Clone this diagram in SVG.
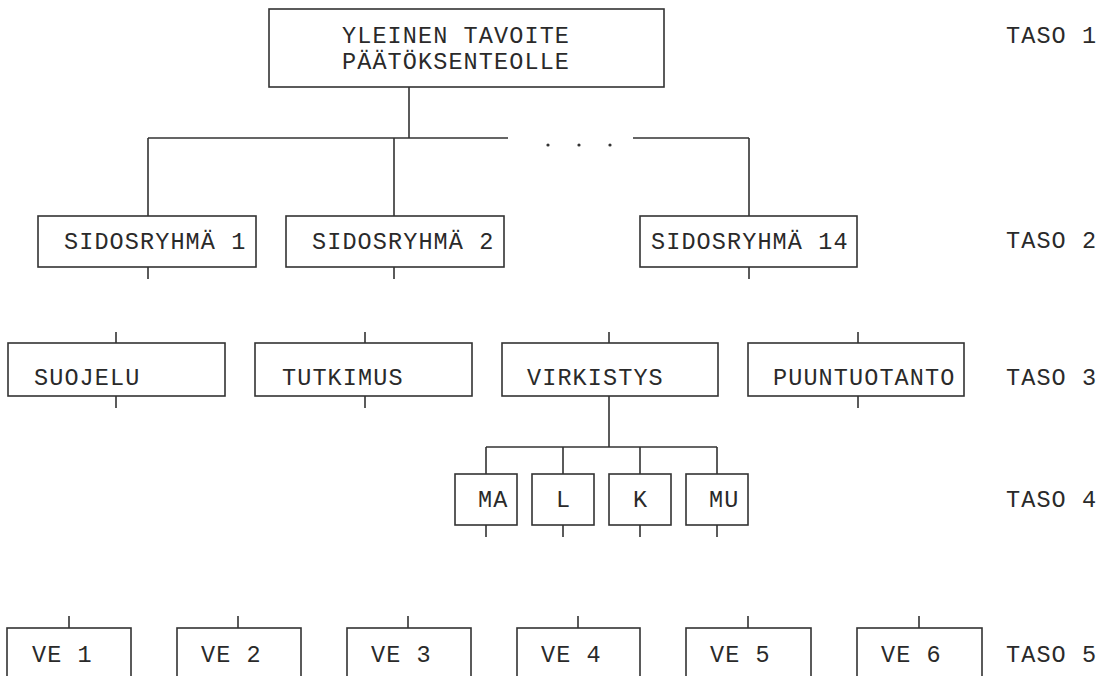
<svg xmlns="http://www.w3.org/2000/svg" width="1109" height="676" viewBox="0 0 1109 676">
<style>
.b{fill:none;stroke:#333;stroke-width:1.6}
.c{fill:none;stroke:#333;stroke-width:1.6}
text{font-family:"Liberation Mono","DejaVu Sans Mono",monospace;font-size:23.5px;letter-spacing:1.1px;fill:#2a2a2a}
</style>
<rect width="1109" height="676" fill="#fff"/>
<g id="connectors" class="c">
<path d="M409 87V138M148 138H508M633 138H749M148 138V216M394 138V216M749 138V216"/>
<path d="M148 267V279M394 267V279M749 267V279"/>
<path d="M116 332V343M365 332V343M609 332V343M858 332V343"/>
<path d="M116 396V408M365 396V408M858 396V408M609 396V447M486 447H717M486 447V474M563 447V474M640 447V474M717 447V474"/>
<path d="M486 525V537M563 525V537M640 525V537M717 525V537"/>
<path d="M69 616V628M238 616V628M408 616V628M578 616V628M748 616V628M919 616V628"/>
</g>
<g id="dots" fill="#333"><circle cx="548" cy="145" r="1.6"/><circle cx="579" cy="145" r="1.6"/><circle cx="610" cy="145" r="1.6"/></g>
<g id="n-top"><rect class="b" x="269" y="9" width="395" height="78"/><text x="342" y="43">YLEINEN TAVOITE</text><text x="342" y="69">PÄÄTÖKSENTEOLLE</text></g>
<g id="n-s1"><rect class="b" x="38" y="216" width="218" height="51"/><text x="64" y="249">SIDOSRYHMÄ 1</text></g>
<g id="n-s2"><rect class="b" x="286" y="216" width="218" height="51"/><text x="312" y="249">SIDOSRYHMÄ 2</text></g>
<g id="n-s14"><rect class="b" x="640" y="216" width="217" height="51"/><text x="651" y="249">SIDOSRYHMÄ 14</text></g>
<g id="n-suojelu"><rect class="b" x="8" y="343" width="217" height="53"/><text x="34" y="385">SUOJELU</text></g>
<g id="n-tutkimus"><rect class="b" x="255" y="343" width="217" height="53"/><text x="282" y="385">TUTKIMUS</text></g>
<g id="n-virkistys"><rect class="b" x="502" y="343" width="216" height="53"/><text x="527" y="385">VIRKISTYS</text></g>
<g id="n-puuntuotanto"><rect class="b" x="748" y="343" width="216" height="53"/><text x="773" y="385">PUUNTUOTANTO</text></g>
<g id="n-ma"><rect class="b" x="455" y="474" width="62" height="51"/><text x="478" y="507">MA</text></g>
<g id="n-l"><rect class="b" x="532" y="474" width="62" height="51"/><text x="556" y="507">L</text></g>
<g id="n-k"><rect class="b" x="609" y="474" width="62" height="51"/><text x="633" y="507">K</text></g>
<g id="n-mu"><rect class="b" x="686" y="474" width="62" height="51"/><text x="709" y="507">MU</text></g>
<g id="n-ve1"><rect class="b" x="7" y="628" width="124" height="70"/><text x="32" y="662">VE 1</text></g>
<g id="n-ve2"><rect class="b" x="177" y="628" width="124" height="70"/><text x="201" y="662">VE 2</text></g>
<g id="n-ve3"><rect class="b" x="347" y="628" width="124" height="70"/><text x="371" y="662">VE 3</text></g>
<g id="n-ve4"><rect class="b" x="517" y="628" width="123" height="70"/><text x="541" y="662">VE 4</text></g>
<g id="n-ve5"><rect class="b" x="686" y="628" width="125" height="70"/><text x="710" y="662">VE 5</text></g>
<g id="n-ve6"><rect class="b" x="857" y="628" width="125" height="70"/><text x="881" y="662">VE 6</text></g>
<g id="levels">
<text x="1006" y="43">TASO 1</text>
<text x="1006" y="248">TASO 2</text>
<text x="1006" y="385">TASO 3</text>
<text x="1006" y="507">TASO 4</text>
<text x="1006" y="662">TASO 5</text>
</g>
</svg>
